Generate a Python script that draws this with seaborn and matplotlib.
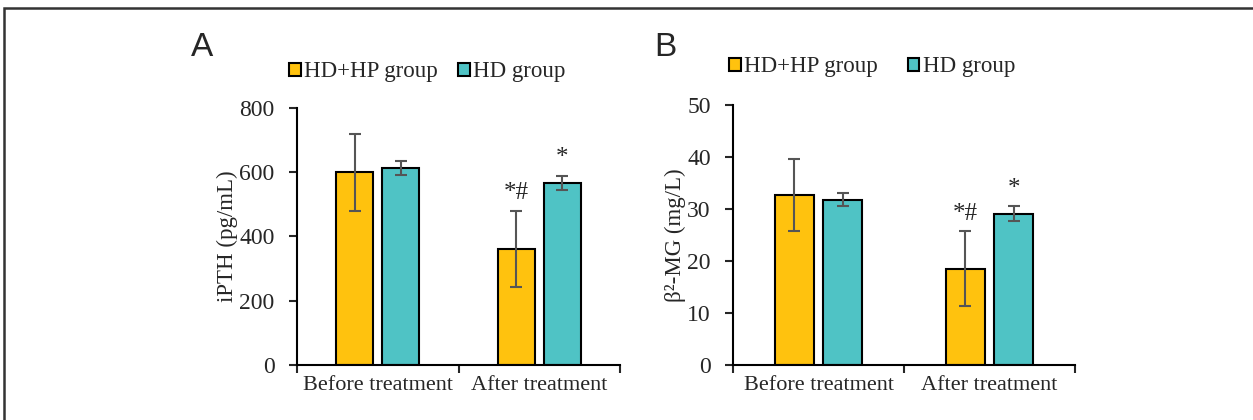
import pandas as pd
import matplotlib.pyplot as plt
import matplotlib.patches as mpatches
import seaborn as sns

# values
stages = ["Before treatment", "After treatment"]
groups = ["HD+HP group", "HD group"]
ipth_mean = [600, 613, 362, 567]        # order: before HD+HP, before HD, after HD+HP, after HD
ipth_err = [120, 22, 118, 22]
b2mg_mean = [32.7, 31.8, 18.5, 29.1]
b2mg_err = [7.0, 1.3, 7.2, 1.4]
marks = ["", "", "*#", "*"]

COLORS = {"HD+HP group": "#FFC20E", "HD group": "#4FC3C5"}
SERIF = "Liberation Serif"

sns.set_style("white")
plt.rcParams["font.family"] = [SERIF, "DejaVu Serif"]


def make_df(means):
    rows = []
    i = 0
    for s in stages:
        for g in groups:
            rows.append({"stage": s, "group": g, "value": means[i]})
            i += 1
    return pd.DataFrame(rows)


fig = plt.figure(figsize=(12.53, 4.2), dpi=100)
axA = fig.add_axes([0.237, 0.131, 0.258, 0.612])
axB = fig.add_axes([0.585, 0.131, 0.273, 0.619])


def draw(ax, means, errs, ylim, step, ylabel, mark_off, leg_xy, colsp):
    df = make_df(means)
    sns.barplot(data=df, x="stage", y="value", hue="group", order=stages,
                hue_order=groups, palette=COLORS, saturation=1, width=0.57,
                gap=0.2, errorbar=None, edgecolor="black", linewidth=1.5,
                ax=ax, legend=False)
    # bars come out grouped by hue: HD+HP (before, after), HD (before, after)
    bars = ax.patches[:4]
    order = [0, 2, 1, 3]
    for k, bi in enumerate(order):
        b = bars[bi]
        cx = b.get_x() + b.get_width() / 2
        ax.errorbar(cx, means[k], yerr=errs[k], color="#555555", lw=1.5,
                    capsize=4, capthick=1.5, zorder=5)
        if marks[k]:
            ax.text(cx, means[k] + errs[k] + mark_off, marks[k], ha="center",
                    va="bottom", fontsize=18)
    ax.set_xlim(-0.5, 1.5)
    ax.set_ylim(*ylim)
    ax.set_yticks(range(ylim[0], ylim[1] + 1, step))
    ax.set_xticks([0, 1])
    ax.set_xticklabels(stages, fontsize=16)
    ax.set_xticks([-0.5, 0.5, 1.5], minor=True)
    ax.tick_params(axis="x", which="major", length=0, pad=8)
    ax.tick_params(axis="x", which="minor", length=6, width=1.5, direction="out",
                   bottom=True)
    ax.tick_params(axis="y", length=6, width=1.5, direction="out", left=True,
                   labelsize=17, pad=10)
    ax.set_xlabel("")
    ax.set_ylabel(ylabel, fontsize=16.5, labelpad=1)
    ax.spines[["top", "right"]].set_visible(False)
    for sp in ["left", "bottom"]:
        ax.spines[sp].set_linewidth(1.5)
        ax.spines[sp].set_color("black")
    handles = [mpatches.Patch(facecolor=COLORS[g], edgecolor="black", lw=1.5)
               for g in groups]
    fig.legend(handles, groups, loc="center left", bbox_to_anchor=leg_xy,
               ncol=2, frameon=False, fontsize=16.5, handlelength=0.5,
               handleheight=0.5, handletextpad=0.15, columnspacing=colsp,
               borderpad=0)


draw(axA, ipth_mean, ipth_err, (0, 800), 200, "iPTH (pg/mL)", 22, (0.2216, 0.829), 0.9)
draw(axB, b2mg_mean, b2mg_err, (0, 50), 10, "β²-MG (mg/L)", 1.3, (0.573, 0.841), 1.3)

fig.text(0.152, 0.888, "A", fontsize=24, family="Liberation Sans", va="center")
fig.text(0.522, 0.886, "B", fontsize=24, family="Liberation Sans", va="center")

# outer frame of the figure panel
fig.add_artist(mpatches.Rectangle((0.0035, -0.5), 2, 1.481, transform=fig.transFigure,
                                  fill=False, edgecolor="#333333", lw=1.8))

fig.savefig("out.png", dpi=100, facecolor="white")
